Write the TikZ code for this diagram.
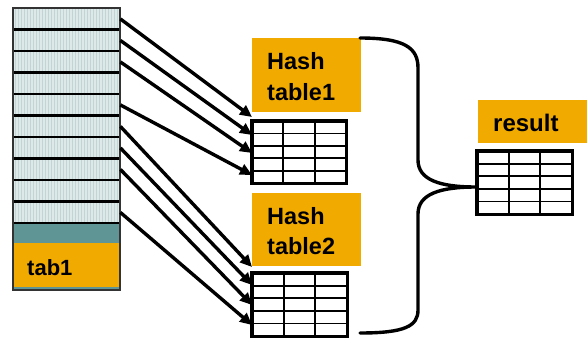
\documentclass[tikz,border=0pt]{standalone}
\usepackage{fontspec}
\setmainfont{Liberation Sans}
\usetikzlibrary{arrows.meta}
\definecolor{org}{HTML}{F0AA00}
\definecolor{tealc}{HTML}{5F9595}
\definecolor{rowc}{HTML}{DDE9E9}
\definecolor{stripec}{HTML}{C3D4D4}
\newcommand{\mygrid}[5]{%
  \node[gridbox, minimum width=#4pt, minimum height=#5pt] (#1) at (#2,#3) {};
  \foreach \k in {1,2} \draw[gline] ({#2+#4*\k/3},#3) -- ({#2+#4*\k/3},{#3+#5});
  \foreach \k in {1,...,4} \draw[gline] (#2,{#3+#5*\k/5}) -- ({#2+#4},{#3+#5*\k/5});
  \draw[line width=3.6pt] (#1.north west) rectangle (#1.south east);
}
\begin{document}
\begin{tikzpicture}[x=1pt,y=-1pt,
  lbl/.style={fill=org, draw=none, inner sep=0, anchor=north west},
  txt/.style={font=\fontsize{23.5}{28}\selectfont\bfseries, inner sep=0, anchor=base west},
  arr/.style={line width=3.4pt, -{Triangle[length=12pt,width=11pt]}},
  rowbox/.style={fill=rowc, draw=none, inner sep=0, anchor=north west, minimum width=107pt, minimum height=21.5pt},
  gridbox/.style={fill=white, draw=none, inner sep=0, anchor=north west},
  gline/.style={line width=1.8pt},
  brace/.style={line width=3.4pt, line cap=round, line join=round}
]
\useasboundingbox (0,0) rectangle (588,337);
% tab1 column
\fill[tealc] (13,8) rectangle (120,290);
\foreach \i in {0,...,9} \node[rowbox] (r\i) at (13,{8+21.5*\i}) {};
\foreach \x in {15,18,...,118} \draw[stripec, line width=0.8pt] (\x,8) -- (\x,223);
\foreach \i in {1,...,10} \draw[line width=2.8pt] (13,{8+21.5*\i}) -- (120,{8+21.5*\i});
\node[lbl, minimum width=107pt, minimum height=44pt] (tl) at (13,243) {};
\node[txt, font=\fontsize{22}{26}\selectfont\bfseries] (tt) at (27,275) {tab1};
\draw[line width=1.6pt, black!80] (13,8) rectangle (120,290);

% hash table labels
\node[lbl, minimum width=109pt, minimum height=74pt] (hl1) at (252,38) {};
\node[txt] (h1a) at (267,70) {Hash};
\node[txt] (h1b) at (267,100) {table1};
\node[lbl, minimum width=109pt, minimum height=73pt] (hl2) at (252,193) {};
\node[txt] (h2a) at (267,224) {Hash};
\node[txt] (h2b) at (267,254) {table2};
\node[lbl, minimum width=109pt, minimum height=43pt] (rl) at (478,100) {};
\node[txt, font=\fontsize{24}{28}\selectfont\bfseries] (rt) at (493,131) {result};

% grids
\mygrid{g1}{252}{121}{94}{62}
\mygrid{g2}{252}{273}{95}{63}
\mygrid{g3}{477}{151}{95}{63}

% arrow targets
\coordinate (t1) at (252,117);
\coordinate (t2) at (252,135);
\coordinate (t3) at (252,153);
\coordinate (t4) at (252,175);
\coordinate (t5) at (252,267);
\coordinate (t6) at (252,285);
\coordinate (t7) at (252,305);
\coordinate (t8) at (252,325);
\draw[arr] (r0.east) -- (t1);
\draw[arr] (r1.east) -- (t2);
\draw[arr] (r2.east) -- (t3);
\draw[arr] (r4.east) -- (t4);
\draw[arr] (r5.east) -- (t5);
\draw[arr] (r6.east) -- (t6);
\draw[arr] (r7.east) -- (t7);
\draw[arr] (r9.east) -- (t8);

% brace
\coordinate (bt) at (476,187);
\draw[brace] (360,38) .. controls (405,38) and (418,48) .. (418,68)
  -- (418,160) .. controls (418,180) and (440,187) .. (bt)
  .. controls (440,187) and (418,194) .. (418,214)
  -- (418,310) .. controls (418,326) and (405,333) .. (360,333);
\end{tikzpicture}
\end{document}
